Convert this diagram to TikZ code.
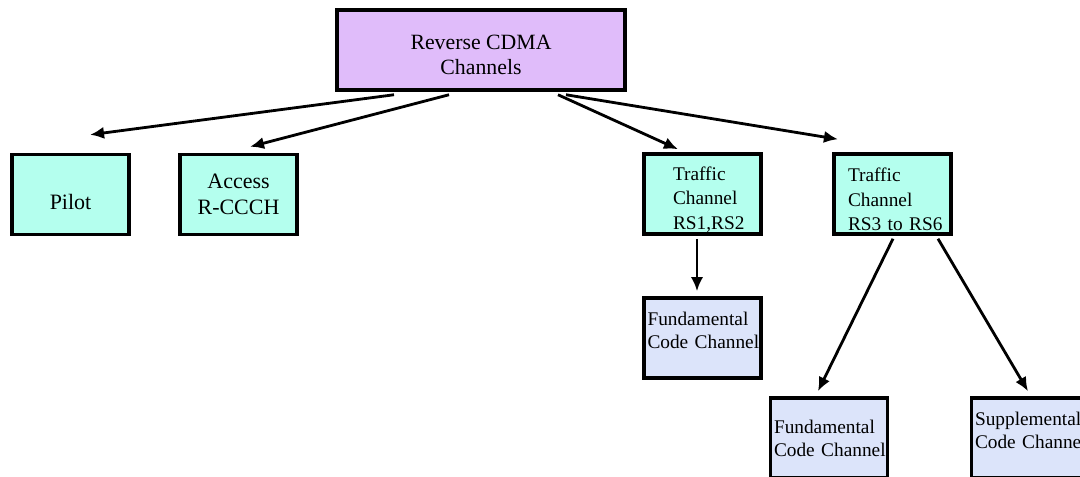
\documentclass[tikz,border=0pt]{standalone}
\usepackage{fontspec}
\setmainfont{Liberation Serif}
\usetikzlibrary{arrows.meta,calc}

\definecolor{rootfill}{RGB}{224,188,250}
\definecolor{chanfill}{RGB}{180,255,238}
\definecolor{codefill}{RGB}{220,228,250}

\tikzset{
  box/.style={draw=black, line width=2pt, rectangle, minimum width=2.34cm,
    minimum height=1.6cm, inner sep=0pt},
  chan/.style={box, fill=chanfill},
  code/.style={box, fill=codefill, align=left, text width=2.2cm,
    font=\fontsize{11}{13}\selectfont},
  arr/.style={line width=1.6pt, -{Latex[length=8pt,width=7pt]}}
}

\begin{document}
\begin{tikzpicture}[x=0.02cm,y=-0.02cm]
  % page is 1080 x 477 "pixels"
  \path[use as bounding box, clip] (0,0) rectangle (1080,477);

  % top box
  \node[box, fill=rootfill, minimum width=5.76cm, align=center,
    font=\fontsize{12.4}{14.5}\selectfont] (rev) at (481,50) {\rule{0pt}{14pt}Reverse CDMA\\Channels};

  % first row
  \node[chan, font=\fontsize{12.5}{14.5}\selectfont] (pilot) at (70.5,194.5) {\rule{0pt}{17pt}Pilot};
  \node[chan, align=center, font=\fontsize{12.5}{14.5}\selectfont] (access) at (238.5,194.5) {Access\\R-CCCH};
  \node[chan, align=left, text width=1.18cm, font=\fontsize{11}{14}\selectfont] (rsA) at (702.5,194) {\rule{0pt}{14pt}Traffic\\\mbox{Channel}\\\mbox{RS1,RS2}};
  \node[chan, align=left, text width=1.78cm, font=\fontsize{11}{14}\selectfont] (rsB) at (892.5,194) {\rule{0pt}{14pt}Traffic\\\mbox{Channel}\\\mbox{RS3 to RS6}};

  % code channels
  \node[code] (fundA) at (702.5,338) {\mbox{Fundamental}\\\mbox{Code Channel}\rule[-9pt]{0pt}{0pt}};
  \node[code] (fundB) at (829,438) {\mbox{Fundamental}\\\mbox{Code Channel}};
  \node[code] (supp) at (1030,438) {\mbox{Supplemental}\\\mbox{Code Channel}\rule[-9pt]{0pt}{0pt}};

  % arrows
  \draw[arr] ($(rev.south)+(-87,3)$) -- ($(pilot.north)+(19.5,-18)$);
  \draw[arr] ($(rev.south)+(-32,3)$) -- ($(access.north)+(11.5,-6)$);
  \draw[arr] ($(rev.south)+(77,3)$) -- ($(rsA.north)+(-24.5,-3)$);
  \draw[arr] ($(rev.south)+(85,3)$) -- ($(rsB.north)+(-54.5,-13)$);
  \draw[arr] ($(rsA.south)+(-5.5,3)$) -- ($(fundA.north)+(-5.5,-5)$);
  \draw[arr] ($(rsB.south)+(0.5,3)$) -- ($(fundB.north)+(-11,-5)$);
  \draw[arr] ($(rsB.south)+(45.5,3)$) -- ($(supp.north)+(-2,-5)$);
\end{tikzpicture}
\end{document}
